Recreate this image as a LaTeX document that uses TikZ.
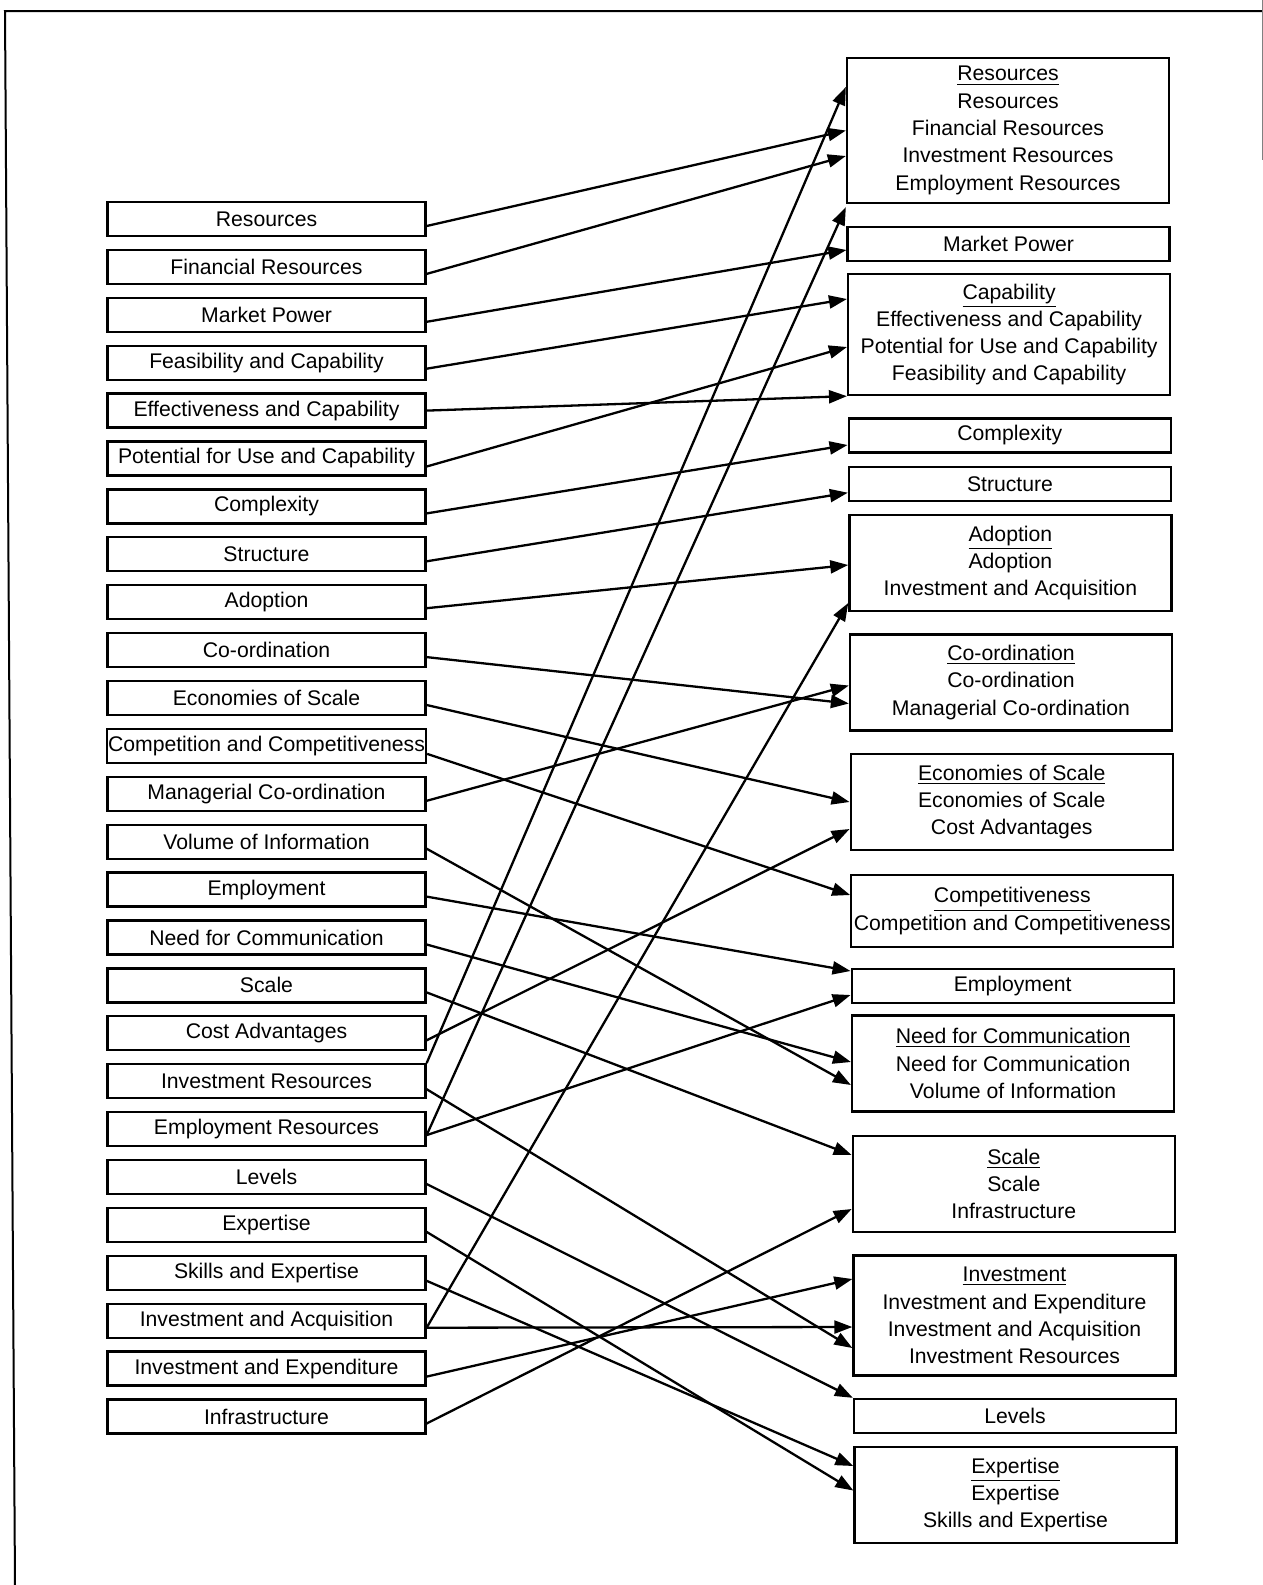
\documentclass[tikz,border=0pt]{standalone}
\usepackage{fontspec}
\setmainfont{Liberation Sans}
\usetikzlibrary{arrows.meta,positioning}

\begin{document}
\begin{tikzpicture}[x=0.5pt,y=-0.5pt,>={Triangle[length=9pt,width=6.5pt]},line width=1.15pt,node distance=23.95pt,
  lbox/.style={draw,rectangle,minimum width=159pt,minimum height=17pt,inner xsep=0.5pt,inner ysep=0pt,font=\fontsize{10.6}{13.65}\selectfont},
  rbox/.style={draw,rectangle,align=center,minimum width=161pt,minimum height=17pt,inner xsep=0.5pt,inner ysep=0pt,font=\fontsize{10.6}{13.65}\selectfont}]
  \useasboundingbox (0,0) rectangle (1263,1585);
  \draw[line width=1pt] (15,1585) -- (5,11) -- (1263,11);
  \draw[gray,line width=0.4pt] (1262,0) -- (1262,160);

  % left column
  \node[lbox] (lres) at (266.5,219) {Resources};
  \node[lbox] (lfin) [below of=lres] {Financial Resources};
  \node[lbox] (lmkt) [below of=lfin] {Market Power};
  \node[lbox] (lfea) [below of=lmkt] {Feasibility and Capability};
  \node[lbox] (leff) [below of=lfea] {Effectiveness and Capability};
  \node[lbox] (lpot) [below of=leff] {Potential for Use and Capability};
  \node[lbox] (lcpx) [below of=lpot] {Complexity};
  \node[lbox] (lstr) [below of=lcpx] {Structure};
  \node[lbox] (lado) [below of=lstr] {Adoption};
  \node[lbox] (lcoo) [below of=lado] {Co-ordination};
  \node[lbox] (leco) [below of=lcoo] {Economies of Scale};
  \node[lbox] (lcom) [below of=leco] {Competition and Competitiveness};
  \node[lbox] (lman) [below of=lcom] {Managerial Co-ordination};
  \node[lbox] (lvol) [below of=lman] {Volume of Information};
  \node[lbox] (lemp) [below of=lvol] {Employment};
  \node[lbox] (lneed) [below of=lemp] {Need for Communication};
  \node[lbox] (lsca) [below of=lneed] {Scale};
  \node[lbox] (lcost) [below of=lsca] {Cost Advantages};
  \node[lbox] (linvr) [below of=lcost] {Investment Resources};
  \node[lbox] (lempr) [below of=linvr] {Employment Resources};
  \node[lbox] (llev) [below of=lempr] {Levels};
  \node[lbox] (lexp) [below of=llev] {Expertise};
  \node[lbox] (lski) [below of=lexp] {Skills and Expertise};
  \node[lbox] (lacq) [below of=lski] {Investment and Acquisition};
  \node[lbox] (lexpd) [below of=lacq] {Investment and Expenditure};
  \node[lbox] (linf) [below of=lexpd] {Infrastructure};

  % right column
  \node[rbox,minimum height=72.5pt] (rres) at (1008,130.5) {\underline{Resources}\\Resources\\Financial Resources\\Investment Resources\\Employment Resources};
  \node[rbox] (rmkt) at (1008.6,244) {Market Power};
  \node[rbox,minimum height=60.5pt] (rcap) at (1009.1,334.5) {\underline{Capability}\\Effectiveness and Capability\\Potential for Use and Capability\\Feasibility and Capability};
  \node[rbox] (rcpx) at (1009.7,435.5) {Complexity};
  \node[rbox] (rstr) at (1010,484) {Structure};
  \node[rbox,minimum height=48pt] (rado) at (1010.4,563) {\underline{Adoption}\\Adoption\\Investment and Acquisition};
  \node[rbox,minimum height=48pt] (rcoo) at (1011,682.5) {\underline{Co-ordination}\\Co-ordination\\Managerial Co-ordination};
  \node[rbox,minimum height=48pt] (reco) at (1011.7,802) {\underline{Economies of Scale}\\Economies of Scale\\Cost Advantages};
  \node[rbox,minimum height=36pt] (rcom) at (1012.3,911) {\underline{Competitiveness}\\Competition and Competitiveness};
  \node[rbox] (remp) at (1012.7,986) {Employment};
  \node[rbox,minimum height=48pt] (rneed) at (1013.1,1063.5) {\underline{Need for Communication}\\Need for Communication\\Volume of Information};
  \node[rbox,minimum height=48pt] (rsca) at (1013.8,1184) {\underline{Scale}\\Scale\\Infrastructure};
  \node[rbox,minimum height=60pt] (rinv) at (1014.5,1315.5) {\underline{Investment}\\Investment and Expenditure\\Investment and Acquisition\\Investment Resources};
  \node[rbox] (rlev) at (1015,1416) {Levels};
  \node[rbox,minimum height=48pt] (rexp) at (1015.5,1495) {\underline{Expertise}\\Expertise\\Skills and Expertise};

  \path[->]
    ([yshift=-3.5pt]lres.east) edge (rres.west)
    ([yshift=-3.5pt]lfin.east) edge ([yshift=-12.75pt]rres.west)
    ([yshift=-3.5pt]lmkt.east) edge ([yshift=-3pt]rmkt.west)
    ([yshift=-3pt]lfea.east) edge ([yshift=17.75pt]rcap.west)
    (leff.east) edge (rcap.south west)
    ([yshift=-4pt]lpot.east) edge ([yshift=-6.25pt]rcap.west)
    ([yshift=-3.5pt]lcpx.east) edge ([yshift=-4.75pt]rcpx.west)
    ([yshift=-3.5pt]lstr.east) edge ([yshift=-4.35pt]rstr.west)
    ([yshift=-3pt]lado.east) edge ([yshift=-1pt]rado.west)
    ([yshift=-3.5pt]lcoo.east) edge ([yshift=-10.5pt]rcoo.west)
    ([yshift=-3.5pt]leco.east) edge (reco.west)
    ([yshift=-4pt]lcom.east) edge ([yshift=8pt]rcom.west)
    ([yshift=-3.5pt]lman.east) edge ([yshift=-1.5pt]rcoo.west)
    ([yshift=-3.5pt]lvol.east) edge ([yshift=-10.75pt]rneed.west)
    ([yshift=-3.5pt]lemp.east) edge ([yshift=7.5pt]remp.west)
    ([yshift=-3.5pt]lneed.east) edge ([yshift=0.75pt]rneed.west)
    ([yshift=-3.5pt]lsca.east) edge ([yshift=14.5pt]rsca.west)
    ([yshift=-3.5pt]lcost.east) edge ([yshift=-13.5pt]reco.west)
    (linvr.north east) edge ([yshift=21.75pt]rres.west)
    ([yshift=-4pt]linvr.east) edge ([yshift=-16.25pt]rinv.west)
    ([yshift=-3pt]lempr.east) edge ([yshift=-1.5pt]rres.south west)
    ([yshift=-3pt]lempr.east) edge ([yshift=-4.5pt]remp.west)
    ([yshift=-3.5pt]llev.east) edge (rlev.north west)
    ([yshift=-3.5pt]lexp.east) edge ([yshift=2.25pt]rexp.west)
    ([yshift=-4pt]lski.east) edge ([yshift=14.5pt]rexp.west)
    ([yshift=-3.5pt]lacq.east) edge ([yshift=-20pt]rado.west)
    ([yshift=-3.5pt]lacq.east) edge ([yshift=-5.75pt]rinv.west)
    ([yshift=-4pt]lexpd.east) edge ([yshift=18.25pt]rinv.west)
    ([yshift=-3.5pt]linf.east) edge ([yshift=-12.5pt]rsca.west);
\end{tikzpicture}
\end{document}
